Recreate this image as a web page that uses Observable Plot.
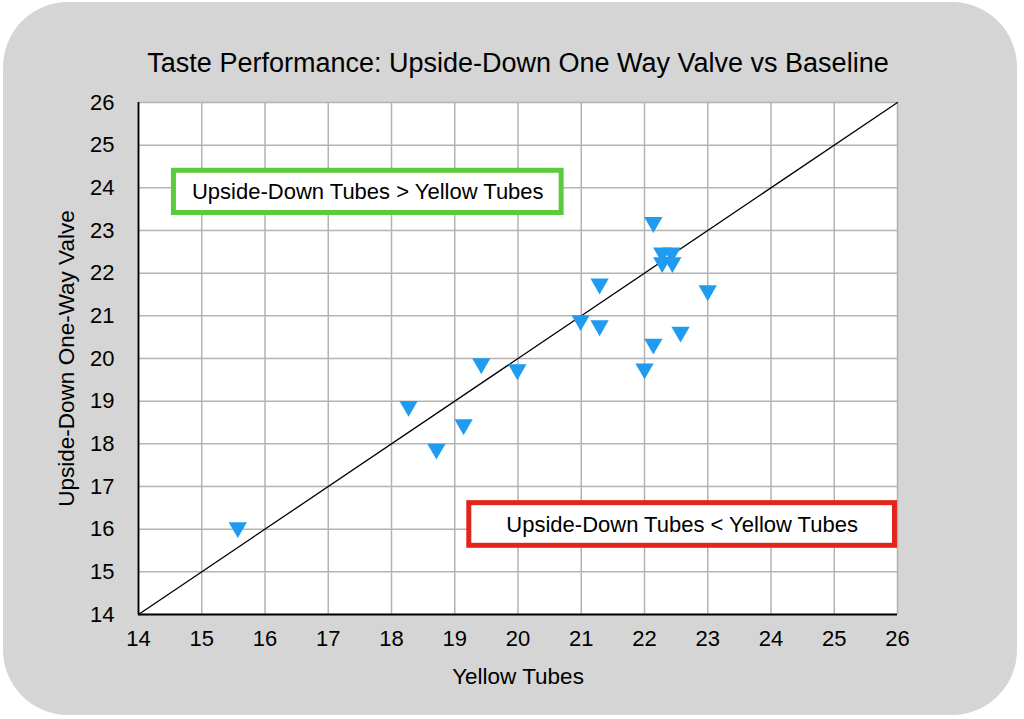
<!DOCTYPE html>
<html>
<head>
<meta charset="utf-8">
<script src="https://cdn.jsdelivr.net/npm/d3@7"></script>
<script src="https://cdn.jsdelivr.net/npm/@observablehq/plot@0.6"></script>
<style>
  body { margin: 0; background: #ffffff; font-family: "Liberation Sans", Arial, Helvetica, sans-serif; }
  #wrap { position: relative; width: 1024px; height: 719px; overflow: hidden; }
  #bg { position: absolute; left: 3px; top: 2px; width: 1014px; height: 713px; background: #d5d5d5; border-radius: 65px; }
  #chart { position: absolute; left: 0; top: 0; }
</style>
</head>
<body>
<div id="wrap"><div id="bg"></div><div id="chart"></div></div>
<script>
const title = "Taste Performance: Upside-Down One Way Valve vs Baseline";
const xLabel = "Yellow Tubes";
const yLabel = "Upside-Down One-Way Valve";
const xTicks = [14, 15, 16, 17, 18, 19, 20, 21, 22, 23, 24, 25, 26];
const yTicks = [14, 15, 16, 17, 18, 19, 20, 21, 22, 23, 24, 25, 26];
// Yellow Tubes (x) vs Upside-Down One-Way Valve (y)
const yellowTubes = [15.57, 18.27, 18.71, 19.14, 19.42, 19.99, 20.99, 21.29, 21.29, 22.0, 22.14, 22.14, 22.28, 22.43, 22.28, 22.44, 22.57, 23.0];
const upsideDown  = [16.04, 18.88, 17.88, 18.45, 19.88, 19.74, 20.89, 21.75, 20.77, 19.76, 23.19, 20.34, 22.48, 22.48, 22.25, 22.25, 20.62, 21.59];
const baseline = [14, 26];
const boxText = ["Upside-Down Tubes > Yellow Tubes", "Upside-Down Tubes < Yellow Tubes"];
const boxColor = ["#5ccb3b", "#e0251b"];
const boxX1 = [14.56, 19.23];
const boxX2 = [20.69, 25.96];
const boxY1 = [23.41, 15.61];
const boxY2 = [24.40, 16.61];

const points = yellowTubes.map((x, i) => ({x, y: upsideDown[i]}));
const boxes = boxText.map((t, i) => ({text: t, color: boxColor[i], x1: boxX1[i], x2: boxX2[i], y1: boxY1[i], y2: boxY2[i]}));

const font = '"Liberation Sans", Arial, Helvetica, sans-serif';

const chart = Plot.plot({
  width: 1024,
  height: 719,
  marginLeft: 138,
  marginRight: 127,
  marginTop: 102,
  marginBottom: 105,
  style: {background: "transparent", fontFamily: font, fontSize: "22px", color: "#000", overflow: "visible"},
  x: {domain: [14, 26], ticks: xTicks, tickSize: 0, tickPadding: 16, label: null, tickFormat: d => String(d)},
  y: {domain: [14, 26], ticks: yTicks, tickSize: 0, tickPadding: 24, label: null, tickFormat: d => String(d)},
  marks: [
    Plot.frame({fill: "white", stroke: "none"}),
    Plot.ruleX(xTicks, {stroke: "#b3b3b3", strokeWidth: 1.5}),
    Plot.ruleY(yTicks, {stroke: "#b3b3b3", strokeWidth: 1.5}),
    Plot.ruleX([xTicks[0]], {stroke: "#000", strokeWidth: 1.8}),
    Plot.ruleY([yTicks[0]], {stroke: "#000", strokeWidth: 1.8}),
    Plot.line(baseline, {x: d => d, y: d => d, stroke: "#000", strokeWidth: 1.3}),
    Plot.dot(points, {x: "x", y: "y", symbol: "triangle", rotate: 180, r: 6.8, fill: "#1f9bf0", stroke: "none"}),
    Plot.rect(boxes, {x1: "x1", x2: "x2", y1: "y1", y2: "y2", fill: "white", stroke: "color", strokeWidth: 5}),
    Plot.text(boxes, {x: d => (d.x1 + d.x2) / 2, y: d => (d.y1 + d.y2) / 2, text: "text", fontSize: 22, fill: "#000"}),
    Plot.text([title], {frameAnchor: "top", text: d => d, dy: -30.5, lineAnchor: "bottom", fontSize: 27, fill: "#000"}),
    Plot.text([xLabel], {frameAnchor: "bottom", text: d => d, dy: 69, lineAnchor: "bottom", fontSize: 22.5, fill: "#000"}),
    Plot.text([yLabel], {frameAnchor: "left", textAnchor: "middle", text: d => d, dx: -65, rotate: -90, lineAnchor: "bottom", fontSize: 22.5, fill: "#000"})
  ]
});
document.getElementById("chart").appendChild(chart);
</script>
</body>
</html>
